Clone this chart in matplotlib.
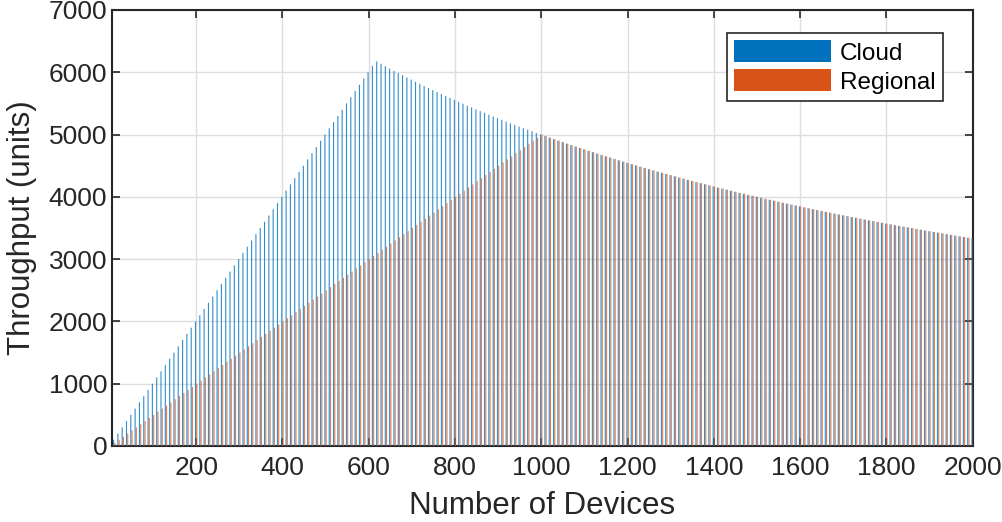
import numpy as np
import matplotlib.pyplot as plt

plt.rcParams['font.family'] = ['Liberation Sans', 'DejaVu Sans']

# number of devices (one group every 10 devices)
devices = np.arange(10, 2001, 10)

# throughput
cloud = [
    100, 200, 300, 400, 500, 600, 700, 800, 900, 1000,
    1100, 1200, 1300, 1400, 1500, 1600, 1700, 1800, 1900, 2000,
    2100, 2200, 2300, 2400, 2500, 2600, 2700, 2800, 2900, 3000,
    3100, 3200, 3300, 3400, 3500, 3600, 3700, 3800, 3900, 4000,
    4100, 4200, 4300, 4400, 4500, 4600, 4700, 4800, 4900, 5000,
    5100, 5200, 5300, 5400, 5500, 5600, 5700, 5800, 5900, 6000,
    6100, 6173, 6135, 6098, 6061, 6024, 5988, 5952, 5917, 5882,
    5848, 5814, 5780, 5747, 5714, 5682, 5650, 5618, 5587, 5556,
    5525, 5495, 5464, 5435, 5405, 5376, 5348, 5319, 5291, 5263,
    5236, 5208, 5181, 5155, 5128, 5102, 5076, 5051, 5025, 5000,
    4975, 4950, 4926, 4902, 4878, 4854, 4831, 4808, 4785, 4762,
    4739, 4717, 4695, 4673, 4651, 4630, 4608, 4587, 4566, 4545,
    4525, 4505, 4484, 4464, 4444, 4425, 4405, 4386, 4367, 4348,
    4329, 4310, 4292, 4274, 4255, 4237, 4219, 4202, 4184, 4167,
    4149, 4132, 4115, 4098, 4082, 4065, 4049, 4032, 4016, 4000,
    3984, 3968, 3953, 3937, 3922, 3906, 3891, 3876, 3861, 3846,
    3831, 3817, 3802, 3788, 3774, 3759, 3745, 3731, 3717, 3704,
    3690, 3676, 3663, 3650, 3636, 3623, 3610, 3597, 3584, 3571,
    3559, 3546, 3534, 3521, 3509, 3497, 3484, 3472, 3460, 3448,
    3436, 3425, 3413, 3401, 3390, 3378, 3367, 3356, 3344, 3333,
]

regional = [
    50, 100, 150, 200, 250, 300, 350, 400, 450, 500,
    550, 600, 650, 700, 750, 800, 850, 900, 950, 1000,
    1050, 1100, 1150, 1200, 1250, 1300, 1350, 1400, 1450, 1500,
    1550, 1600, 1650, 1700, 1750, 1800, 1850, 1900, 1950, 2000,
    2050, 2100, 2150, 2200, 2250, 2300, 2350, 2400, 2450, 2500,
    2550, 2600, 2650, 2700, 2750, 2800, 2850, 2900, 2950, 3000,
    3050, 3100, 3150, 3200, 3250, 3300, 3350, 3400, 3450, 3500,
    3550, 3600, 3650, 3700, 3750, 3800, 3850, 3900, 3950, 4000,
    4050, 4100, 4150, 4200, 4250, 4300, 4350, 4400, 4450, 4500,
    4550, 4600, 4650, 4700, 4750, 4800, 4850, 4900, 4950, 5000,
    4975, 4950, 4926, 4902, 4878, 4854, 4831, 4808, 4785, 4762,
    4739, 4717, 4695, 4673, 4651, 4630, 4608, 4587, 4566, 4545,
    4525, 4505, 4484, 4464, 4444, 4425, 4405, 4386, 4367, 4348,
    4329, 4310, 4292, 4274, 4255, 4237, 4219, 4202, 4184, 4167,
    4149, 4132, 4115, 4098, 4082, 4065, 4049, 4032, 4016, 4000,
    3984, 3968, 3953, 3937, 3922, 3906, 3891, 3876, 3861, 3846,
    3831, 3817, 3802, 3788, 3774, 3759, 3745, 3731, 3717, 3704,
    3690, 3676, 3663, 3650, 3636, 3623, 3610, 3597, 3584, 3571,
    3559, 3546, 3534, 3521, 3509, 3497, 3484, 3472, 3460, 3448,
    3436, 3425, 3413, 3401, 3390, 3378, 3367, 3356, 3344, 3333,
]

fig = plt.figure(figsize=(10.02, 5.22), dpi=100)
ax = fig.add_axes([0.1118, 0.1456, 0.8593, 0.8353])

bw = 2.6
off = 1.45
b1 = ax.bar(devices - off, cloud, width=bw, color='#0072BD', alpha=0.8,
            linewidth=0, label='Cloud', zorder=3)
b2 = ax.bar(devices + off, regional, width=bw, color='#D95319', alpha=0.75,
            linewidth=0, label='Regional', zorder=3)
for p in list(b1) + list(b2):
    p.set_snap(False)

ax.set_xlim(5, 2001)
ax.set_ylim(0, 7000)
ax.set_xticks(np.arange(200, 2001, 200))
ax.set_yticks(np.arange(0, 7001, 1000))
ax.tick_params(direction='in', labelsize=19, length=6, width=1.2,
               top=True, right=True, colors='#262626')
ax.tick_params(axis='x', pad=7)
ax.grid(True, color='#dedede', linewidth=1.0, zorder=0)
for s in ax.spines.values():
    s.set_linewidth(1.5)
    s.set_color('#262626')

ax.set_xlabel('Number of Devices', fontsize=22.5, color='#262626', labelpad=8)
ax.set_ylabel('Throughput (units)', fontsize=22.5, color='#262626', labelpad=8)

leg = ax.legend(loc='upper right', bbox_to_anchor=(0.965, 0.947),
                borderaxespad=0, fontsize=17.5, fancybox=False, framealpha=1,
                edgecolor='#262626', handlelength=4.0, handleheight=1.0,
                borderpad=0.3, labelspacing=0.2, handletextpad=0.35)
leg.get_frame().set_linewidth(1.2)
for h in leg.legend_handles:
    h.set_alpha(1)

fig.savefig('out.png', dpi=100)
